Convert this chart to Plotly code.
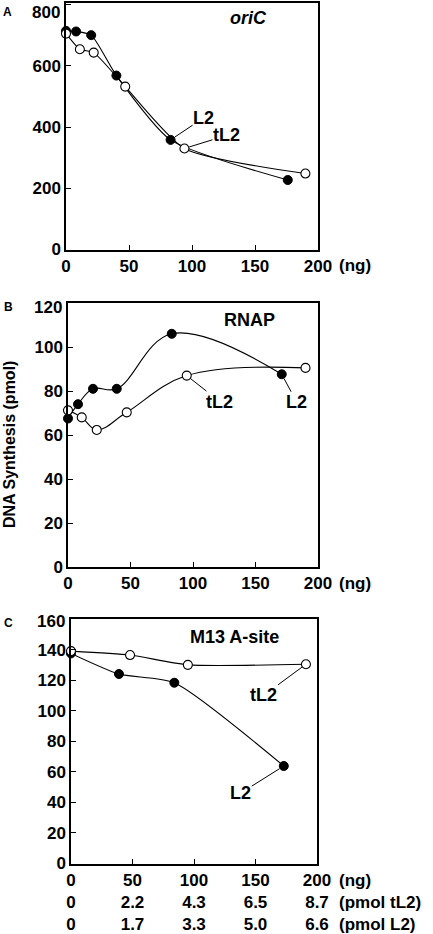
import plotly.graph_objects as go

W, H = 433, 934

# ---------------- data ----------------
ng_ticks = [0, 50, 100, 150, 200]
ng_labels = ["0", "50", "100", "150", "200"]
pmol_tl2_labels = ["0", "2.2", "4.3", "6.5", "8.7"]
pmol_l2_labels = ["0", "1.7", "3.3", "5.0", "6.6"]

# Panel A : oriC
a_l2_x = [0, 8, 20, 40, 83, 176]
a_l2_y = [714, 712, 700, 568, 358, 227]
a_tl2_x = [0, 11, 22, 47, 94, 190]
a_tl2_y = [705, 654, 643, 532, 330, 248]
a_yticks = [0, 200, 400, 600, 800]

# Panel B : RNAP
b_l2_x = [0, 8, 20, 39, 83, 171]
b_l2_y = [67.5, 74, 81, 81, 106, 87.6]
b_tl2_x = [0, 11, 23, 47, 95, 190]
b_tl2_y = [71.2, 68, 62.3, 70.3, 87, 90.5]
b_yticks = [0, 20, 40, 60, 80, 100, 120]

# Panel C : M13 A-site
c_l2_x = [0, 39, 84, 173]
c_l2_y = [137.5, 124, 118.3, 63.8]
c_tl2_x = [0, 48, 95, 191]
c_tl2_y = [139, 136.4, 130, 130.4]
c_yticks = [0, 20, 40, 60, 80, 100, 120, 140, 160]

# ---------------- helpers ----------------
def xd(l, r):
    return [l / W, r / W]

def yd(top, bottom):
    return [1 - bottom / H, 1 - top / H]

def px(x):
    return x / W

def py(y):
    return 1 - y / H

FONT = "Liberation Sans, Arial, sans-serif"
tickfont = dict(family=FONT, size=17, color="black", weight="bold")
bold = dict(family=FONT, color="black", weight="bold")

fig = go.Figure()

def add_pair(xs_f, ys_f, xs_o, ys_o, xa, ya, smooth):
    fig.add_trace(go.Scatter(
        x=xs_f, y=ys_f, xaxis=xa, yaxis=ya, mode="lines+markers",
        line=dict(color="black", width=1.1, shape="spline", smoothing=smooth),
        marker=dict(symbol="circle", size=9, color="black",
                    line=dict(color="black", width=1)),
        cliponaxis=False, showlegend=False, hoverinfo="skip"))
    fig.add_trace(go.Scatter(
        x=xs_o, y=ys_o, xaxis=xa, yaxis=ya, mode="lines+markers",
        line=dict(color="black", width=1.1, shape="spline", smoothing=smooth),
        marker=dict(symbol="circle", size=9, color="white",
                    line=dict(color="black", width=1.1)),
        cliponaxis=False, showlegend=False, hoverinfo="skip"))

add_pair(a_l2_x, a_l2_y, a_tl2_x, a_tl2_y, "x", "y", 0.6)
add_pair(b_l2_x, b_l2_y, b_tl2_x, b_tl2_y, "x2", "y2", 1.1)
add_pair(c_l2_x, c_l2_y, c_tl2_x, c_tl2_y, "x3", "y3", 0.6)

common = dict(showline=True, mirror=True, linecolor="black", linewidth=1.5,
              ticks="inside", ticklen=5, tickwidth=1, tickcolor="black",
              showgrid=False, zeroline=False, tickfont=tickfont, automargin=False)
common_x = dict(common, tickvals=ng_ticks, range=[0, 200])

c_xtext = [f"{a}<br>{b}<br>{c}" for a, b, c in zip(ng_labels, pmol_tl2_labels, pmol_l2_labels)]

def ytext(ticks):
    # top label is drawn separately (nudged down inside the figure like the original)
    return [str(v) for v in ticks[:-1]] + [""]

fig.update_layout(
    width=W, height=H,
    margin=dict(l=0, r=0, t=0, b=0, autoexpand=False),
    paper_bgcolor="white", plot_bgcolor="white",
    hovermode=False,
    xaxis=dict(common_x, domain=xd(66, 318), anchor="y", ticktext=ng_labels),
    yaxis=dict(common, domain=yd(3, 249.5), anchor="x", range=[0, 805],
               tickvals=a_yticks, ticktext=ytext(a_yticks)),
    xaxis2=dict(common_x, domain=xd(68, 318), anchor="y2", ticktext=ng_labels),
    yaxis2=dict(common, domain=yd(303, 567), anchor="x2", range=[0, 120],
                tickvals=b_yticks, ticktext=ytext(b_yticks)),
    xaxis3=dict(common_x, domain=xd(71, 317), anchor="y3", ticktext=c_xtext),
    yaxis3=dict(common, domain=yd(619, 863.5), anchor="x3", range=[0, 160],
                tickvals=c_yticks, ticktext=ytext(c_yticks)),
)

ann = []

# top y tick labels (shifted down slightly as in the original)
for yr, ticks, xl, shift in [("y", a_yticks, 66, -8), ("y2", b_yticks, 68, -4), ("y3", c_yticks, 71, -2)]:
    ann.append(dict(xref="paper", yref=yr, x=px(xl - 4), y=ticks[-1], yshift=shift,
                    text=str(ticks[-1]), showarrow=False, font=dict(bold, size=17),
                    xanchor="right", yanchor="middle"))

# panel letters
for letter, (lx, ly) in zip(["A", "B", "C"], [(7.5, 12), (8.3, 307), (8.3, 623.3)]):
    ann.append(dict(xref="paper", yref="paper", x=px(lx), y=py(ly), text=letter,
                    showarrow=False, font=dict(bold, size=12),
                    xanchor="center", yanchor="middle"))

# panel titles
ann.append(dict(xref="paper", yref="paper", x=px(248), y=py(18), text="<i>oriC</i>",
                showarrow=False, font=dict(bold, size=18), xanchor="center", yanchor="middle"))
ann.append(dict(xref="paper", yref="paper", x=px(250), y=py(320), text="RNAP",
                showarrow=False, font=dict(bold, size=18), xanchor="center", yanchor="middle"))
ann.append(dict(xref="paper", yref="paper", x=px(234), y=py(636.7), text="M13 A-site",
                showarrow=False, font=dict(bold, size=18), xanchor="center", yanchor="middle"))

# y-axis title
ann.append(dict(xref="paper", yref="paper", x=px(9), y=py(445), text="DNA Synthesis (pmol)",
                textangle=-90, showarrow=False, font=dict(bold, size=16),
                xanchor="center", yanchor="middle"))

# unit labels
ann.append(dict(xref="paper", yref="paper", x=px(337), y=py(266), text="(ng)",
                showarrow=False, font=dict(bold, size=17), xanchor="left", yanchor="middle"))
ann.append(dict(xref="paper", yref="paper", x=px(337), y=py(583.3), text="(ng)",
                showarrow=False, font=dict(bold, size=17), xanchor="left", yanchor="middle"))
ann.append(dict(xref="paper", yref="paper", x=px(337), y=py(869), text="(ng)<br>(pmol tL2)<br>(pmol L2)",
                showarrow=False, font=dict(bold, size=17), xanchor="left", yanchor="top", align="left"))

# series labels with leader lines
def lab(text, xr, yr, x, y, ax, ay):
    ann.append(dict(xref=xr, yref=yr, x=x, y=y, text=text, showarrow=True,
                    arrowhead=0, arrowwidth=1, arrowcolor="black", ax=ax, ay=ay,
                    standoff=5, borderpad=0, font=dict(bold, size=18)))

lab("L2", "x", "y", a_l2_x[4], a_l2_y[4], 33, -22)
lab("tL2", "x", "y", a_tl2_x[4], a_tl2_y[4], 42, -13)
lab("tL2", "x2", "y2", b_tl2_x[4], b_tl2_y[4], 33, 26)
lab("L2", "x2", "y2", b_l2_x[5], b_l2_y[5], 15, 28)
lab("tL2", "x3", "y3", c_tl2_x[3], c_tl2_y[3], -42, 31)
lab("L2", "x3", "y3", c_l2_x[3], c_l2_y[3], -43, 27)

fig.update_layout(annotations=ann)

fig.write_html("out.html", config={"displayModeBar": False},
               post_script="document.body.style.margin='0';document.body.style.overflow='hidden';")
